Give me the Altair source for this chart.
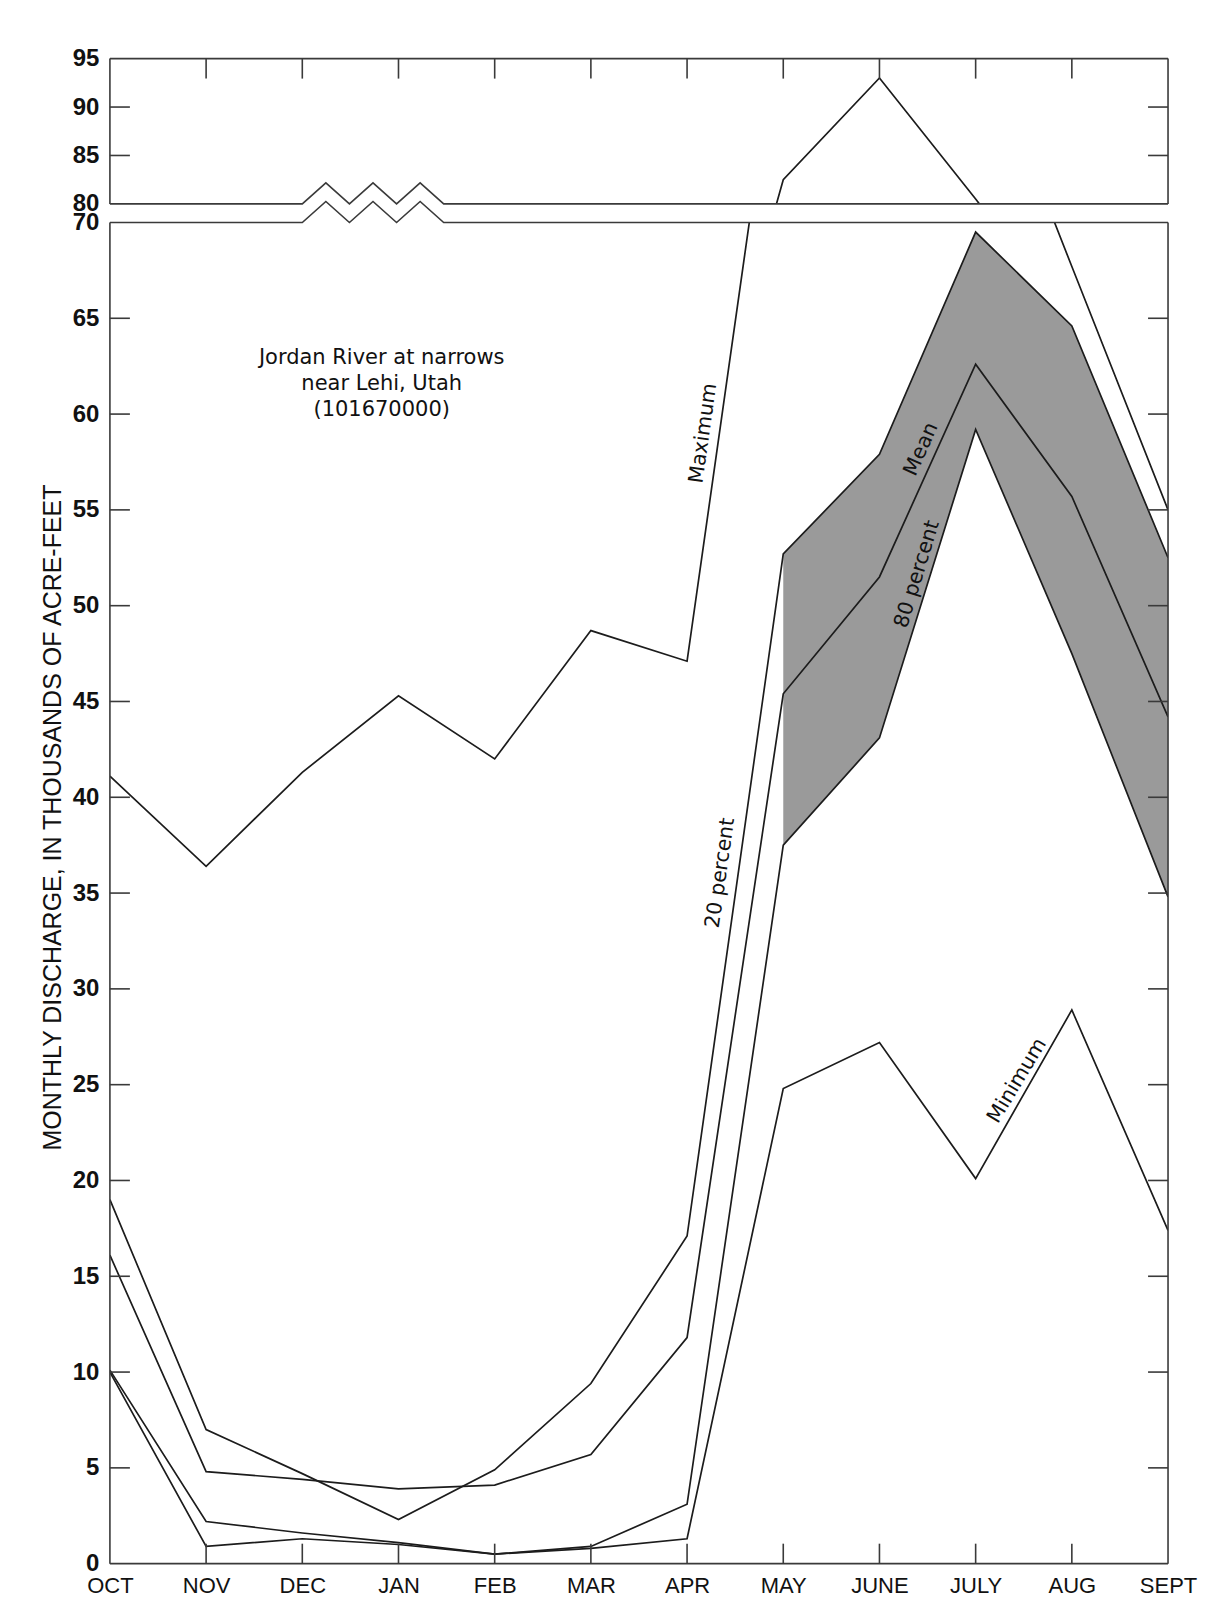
import json
import altair as alt
import pandas as pd

# ---------------- data (thousands of acre-feet) ----------------
months = ["OCT", "NOV", "DEC", "JAN", "FEB", "MAR", "APR", "MAY", "JUNE", "JULY", "AUG", "SEPT"]
maximum = [41.1, 36.4, 41.3, 45.3, 42.0, 48.7, 47.1, 82.5, 93.0, 80.5, 67.7, 55.0]
pct20 = [19.0, 7.0, 4.7, 2.3, 4.9, 9.4, 17.1, 52.7, 57.9, 69.5, 64.6, 52.5]
mean = [16.1, 4.8, 4.4, 3.9, 4.1, 5.7, 11.8, 45.4, 51.5, 62.6, 55.7, 44.2]
pct80 = [10.1, 2.2, 1.6, 1.1, 0.5, 0.9, 3.1, 37.5, 43.1, 59.2, 47.5, 34.8]
minimum = [10.0, 0.9, 1.3, 1.0, 0.5, 0.8, 1.3, 24.8, 27.2, 20.1, 28.9, 17.4]
band_months = ["MAY", "JUNE", "JULY", "AUG", "SEPT"]

upper_ticks = [80, 85, 90, 95]
lower_ticks = [0, 5, 10, 15, 20, 25, 30, 35, 40, 45, 50, 55, 60, 65, 70]
y_title = "MONTHLY DISCHARGE, IN THOUSANDS OF ACRE-FEET"
note = "Jordan River at narrows\nnear Lehi, Utah\n(101670000)"

# ---------------- layout ----------------
W = 1059
H_UP = 145.4
H_LO = 1342.3
GAP = 18
INK = "#1c1c1c"
FRAME = "#3a3a3a"
FONT = "Liberation Sans"
LFONT = "DejaVu Sans"
TL = 20
SW = 1.6

series = {"Maximum": maximum, "20 percent": pct20, "Mean": mean,
          "80 percent": pct80, "Minimum": minimum}
rows = []
for name, vals in series.items():
    for i, v in enumerate(vals):
        rows.append({"series": name, "m": i, "v": v})
lines_df = pd.DataFrame(rows)

band_idx = [months.index(b) for b in band_months]
band_df = pd.DataFrame({"m": band_idx,
                        "hi": [pct20[i] for i in band_idx],
                        "lo": [pct80[i] for i in band_idx]})

xscale = alt.Scale(domain=[0, len(months) - 1], nice=False, zero=False)
label_expr = json.dumps(months) + "[datum.value]"
x_axis_lo = alt.Axis(values=list(range(len(months))), labelExpr=label_expr,
                     ticks=False, tickSize=0, domain=False, grid=False, title=None,
                     labelFont=FONT, labelFontSize=22, labelColor="#111",
                     labelPadding=12, labelFlush=False, labelOverlap=False)

one = pd.DataFrame({"k": [0]})


def rule(**enc):
    return alt.Chart(one).mark_rule(color=FRAME, strokeWidth=SW).encode(**enc)


def panel(lo, hi, height, ticks, x_axis, y_axis, top_edge, bottom_edge):
    yscale = alt.Scale(domain=[lo, hi], nice=False, zero=False)
    X = lambda f: alt.X(f, scale=xscale, axis=x_axis)
    Y = lambda f: alt.Y(f, scale=yscale, axis=y_axis)
    layers = []
    layers.append(alt.Chart(band_df).mark_area(color="#9a9a9a", opacity=1, clip=True).encode(
        x=X("m:Q"), y=Y("hi:Q"), y2="lo:Q"))
    layers.append(alt.Chart(lines_df).mark_line(color=INK, strokeWidth=1.7, clip=True).encode(
        x=X("m:Q"), y=Y("v:Q"), detail="series:N"))
    # frame sides
    layers.append(rule(x=alt.value(0), y=alt.value(0), y2=alt.value(height)))
    layers.append(rule(x=alt.value(W), y=alt.value(0), y2=alt.value(height)))
    if top_edge:
        layers.append(rule(x=alt.value(0), x2=alt.value(W), y=alt.value(0)))
    if bottom_edge:
        layers.append(rule(x=alt.value(0), x2=alt.value(W), y=alt.value(height)))
    # inward ticks
    inner_y = pd.DataFrame({"t": ticks[1:-1]})
    layers.append(alt.Chart(inner_y).mark_rule(color=FRAME, strokeWidth=SW).encode(
        y=Y("t:Q"), x=alt.value(0), x2=alt.value(TL)))
    layers.append(alt.Chart(inner_y).mark_rule(color=FRAME, strokeWidth=SW).encode(
        y=Y("t:Q"), x=alt.value(W - TL), x2=alt.value(W)))
    inner_x = pd.DataFrame({"t": list(range(1, len(months) - 1))})
    if top_edge:
        layers.append(alt.Chart(inner_x).mark_rule(color=FRAME, strokeWidth=SW).encode(
            x=X("t:Q"), y=alt.value(0), y2=alt.value(TL)))
    if bottom_edge:
        layers.append(alt.Chart(inner_x).mark_rule(color=FRAME, strokeWidth=SW).encode(
            x=X("t:Q"), y=alt.value(height - TL), y2=alt.value(height)))
    return layers, X, Y


# zig-zag break symbol (x in month units, rise in px)
zz_start, zz_step, zz_teeth, zz_rise = 2.0, 0.245, 3, 21
zx = [0] + [zz_start + k * zz_step for k in range(zz_teeth * 2 + 1)] + [len(months) - 1]
zr = [0] + [zz_rise if k % 2 == 1 else 0 for k in range(zz_teeth * 2 + 1)] + [0]


def zigzag(base_px, X):
    df = pd.DataFrame({"o": range(len(zx)), "m": zx, "r": zr})
    return alt.Chart(df).transform_calculate(py=f"{base_px} - datum.r").mark_line(
        color=FRAME, strokeWidth=SW).encode(
        x=X("m:Q"), y=alt.Y("py:Q", scale=None), order="o:Q")


# ---------- upper panel ----------
y_axis_up = alt.Axis(values=upper_ticks, ticks=False, tickSize=0, domain=False, grid=False,
                     labelFont=FONT, labelFontSize=24, labelFontWeight="bold",
                     labelColor="#111", labelPadding=11, labelOverlap=False,
                     labelFlush=False, title=None)
up_layers, Xu, Yu = panel(80, 95, H_UP, upper_ticks, None, y_axis_up, True, False)
up_layers.append(zigzag(H_UP, Xu))
upper = alt.layer(*up_layers).properties(width=W, height=H_UP)

# ---------- lower panel ----------
y_axis_lo = alt.Axis(values=lower_ticks, ticks=False, tickSize=0, domain=False, grid=False,
                     labelFont=FONT, labelFontSize=24, labelFontWeight="bold",
                     labelColor="#111", labelPadding=11, labelOverlap=False,
                     labelFlush=False,
                     title=y_title, titleFont=FONT, titleFontSize=25,
                     titleFontWeight="normal", titleColor="#111",
                     titleAngle=270, titleAlign="center", titleBaseline="middle",
                     titleX=-57, titleY=595)
lo_layers, Xl, Yl = panel(0, 70, H_LO, lower_ticks, x_axis_lo, y_axis_lo, False, True)
lo_layers.append(zigzag(0, Xl))


def label(text, px, py, angle, size=20.5):
    return alt.Chart(one).mark_text(text=text, font=LFONT, fontSize=size, color="#111",
                                    angle=angle, align="center", baseline="middle").encode(
        x=alt.value(px), y=alt.value(py))


lo_layers.append(alt.Chart(one).mark_text(
    text=note.split("\n"), font=LFONT, fontSize=21, color="#111",
    align="center", baseline="middle", lineHeight=26).encode(
    x=alt.value(272), y=alt.value(136)))
lo_layers += [
    label("Maximum", 594, 211, 278),
    label("20 percent", 611, 651, 278),
    label("Mean", 812, 227, 294),
    label("80 percent", 808, 352, 287),
    label("Minimum", 908, 859, 301),
]
lower = alt.layer(*lo_layers).properties(width=W, height=H_LO)

chart = alt.vconcat(upper, lower, spacing=GAP, bounds="flush").properties(
    padding={"left": 33, "top": 38, "right": 10, "bottom": 0},
    background="white",
).configure_view(stroke=None)

chart.save("out.html", embed_options={"renderer": "svg", "actions": False})
